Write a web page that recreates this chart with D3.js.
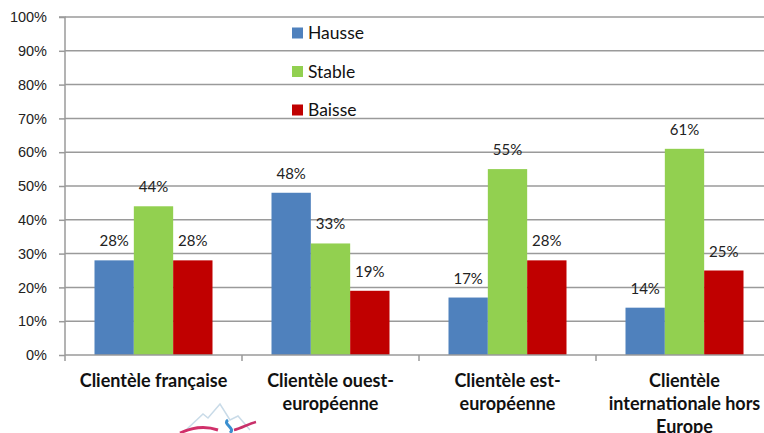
<!DOCTYPE html>
<html lang="fr">
<head>
  <meta charset="UTF-8">
  <title>Évolution de la clientèle</title>
  <script src="https://d3js.org/d3.v7.min.js"></script>
  <style>
    body { margin: 0; background: #fff; }
    svg { display: block; font-family: Lato, "Open Sans", sans-serif; }
    .grid line { stroke: #9a9a9a; stroke-width: 1.5; }
    .axis path, .axis line { stroke: #9a9a9a; stroke-width: 1.5; }
    .axis text { fill: #222; font-size: 14.5px; }
    .value { font-size: 15px; fill: #222; text-anchor: middle; }
    .cat { font-size: 18px; font-weight: bold; fill: #111; text-anchor: middle; }
    .legend text { font-size: 17.5px; fill: #111; }
  </style>
</head>
<body>
  <svg width="764" height="433"></svg>
  <script>
    const categories = [
      ["Clientèle française"],
      ["Clientèle ouest-", "européenne"],
      ["Clientèle est-", "européenne"],
      ["Clientèle", "internationale hors", "Europe"]
    ];
    const seriesNames = ["Hausse", "Stable", "Baisse"];
    const hausse = [28, 48, 17, 14];
    const stable = [44, 33, 55, 61];
    const baisse = [28, 19, 28, 25];
    const yTicks = [0, 10, 20, 30, 40, 50, 60, 70, 80, 90, 100];
    const colors = ["#4f81bd", "#92d050", "#c00000"];

    const series = [hausse, stable, baisse];
    const svg = d3.select("svg");

    const plotLeft = 65, plotRight = 773, plotTop = 17, plotBottom = 355;
    const x = d3.scaleBand().domain(d3.range(categories.length)).range([plotLeft, plotRight]);
    const inner = d3.scaleBand().domain(d3.range(series.length))
      .range([0, x.bandwidth()]).paddingOuter(0.75).paddingInner(0);
    const y = d3.scaleLinear().domain([0, 100]).range([plotBottom, plotTop]);

    // horizontal gridlines
    svg.append("g").attr("class", "grid")
      .selectAll("line").data(yTicks.slice(1)).join("line")
      .attr("x1", plotLeft).attr("x2", 764)
      .attr("y1", d => y(d)).attr("y2", d => y(d));

    // y axis
    const yAxis = svg.append("g").attr("class", "axis")
      .attr("transform", `translate(${plotLeft},0)`)
      .call(d3.axisLeft(y).tickValues(yTicks).tickSize(6).tickPadding(12)
        .tickFormat(d => d + "%"));
    yAxis.select(".domain").attr("d", `M-6,${plotTop}H0V${plotBottom}`);

    // bars
    const groups = svg.append("g").selectAll("g")
      .data(categories).join("g")
      .attr("transform", (d, i) => `translate(${x(i)},0)`);

    groups.selectAll("rect")
      .data((d, i) => series.map((s, j) => ({ j, v: s[i] })))
      .join("rect")
      .attr("x", d => inner(d.j))
      .attr("width", inner.bandwidth())
      .attr("y", d => y(d.v))
      .attr("height", d => y(0) - y(d.v))
      .attr("fill", d => colors[d.j]);

    groups.selectAll("text.value")
      .data((d, i) => series.map((s, j) => ({ j, v: s[i] })))
      .join("text").attr("class", "value")
      .attr("x", d => inner(d.j) + inner.bandwidth() / 2)
      .attr("y", d => y(d.v) - 14)
      .text(d => d.v + "%");

    // x axis
    const xAxis = svg.append("g").attr("class", "axis")
      .attr("transform", `translate(0,${plotBottom})`)
      .call(d3.axisBottom(x).tickSize(0).tickFormat(""));
    xAxis.select(".domain").attr("d", `M${plotLeft},0H${plotRight}`);
    xAxis.selectAll(".bt").data(d3.range(categories.length + 1)).join("line")
      .attr("x1", i => plotLeft + i * x.bandwidth()).attr("x2", i => plotLeft + i * x.bandwidth())
      .attr("y1", 0).attr("y2", 6);

    // category labels
    svg.append("g").selectAll("text")
      .data(categories).join("text").attr("class", "cat")
      .attr("transform", (d, i) => `translate(${x(i) + x.bandwidth() / 2},387)`)
      .selectAll("tspan").data(d => d).join("tspan")
      .attr("x", 0).attr("dy", (d, k) => k ? 23 : 0)
      .text(d => d);

    // legend
    const legend = svg.append("g").attr("class", "legend")
      .selectAll("g").data(seriesNames).join("g")
      .attr("transform", (d, i) => `translate(292,${33 + i * 38.5})`);
    legend.append("rect").attr("x", 0).attr("y", -5.5).attr("width", 11).attr("height", 11)
      .attr("fill", (d, i) => colors[i]);
    legend.append("text").attr("x", 16).attr("y", 6).text(d => d);

    // logo fragment
    const logo = svg.append("g").attr("transform", "translate(178,400)");
    logo.append("path").attr("d", "M8,30 L25,14 L30,18 L42,4 L52,20 L60,16 L72,30")
      .attr("fill", "none").attr("stroke", "#c9dbe8").attr("stroke-width", 1.5);
    logo.append("path").attr("d", "M2,33 C15,27 28,26 40,30")
      .attr("fill", "none").attr("stroke", "#d0306a").attr("stroke-width", 3);
    logo.append("path").attr("d", "M50,20 C44,24 58,28 52,33")
      .attr("fill", "none").attr("stroke", "#3a8fd0").attr("stroke-width", 3);
    logo.append("path").attr("d", "M56,30 C64,28 70,24 78,22")
      .attr("fill", "none").attr("stroke", "#c8306a").attr("stroke-width", 2.5);
  </script>
</body>
</html>
